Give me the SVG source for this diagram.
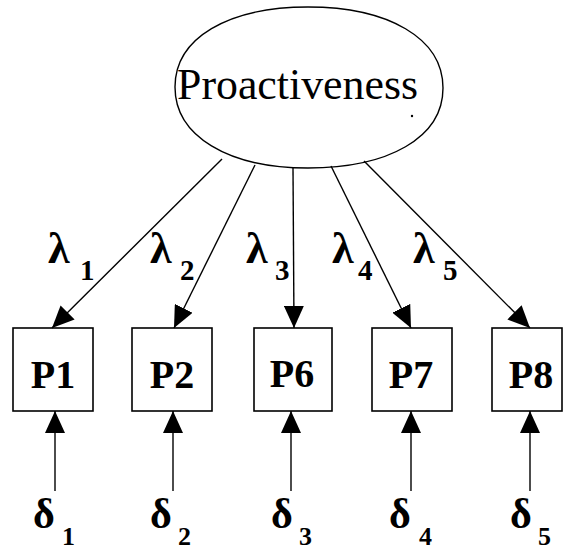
<svg xmlns="http://www.w3.org/2000/svg" width="564" height="550" viewBox="0 0 564 550">
<style>
.box{fill:#fff;stroke:#000;stroke-width:1.6}
.ln{fill:none;stroke:#000;stroke-width:1.4}
.lbl{font-family:"Liberation Serif","Times New Roman",serif;font-weight:bold;fill:#000}
.title{font-family:"Liberation Serif","Times New Roman",serif;font-weight:normal;font-size:44px;fill:#000}
.bx{font-size:40px;text-anchor:middle}
.lam{font-size:44px}
.lsub{font-size:29px}
.del{font-size:42px}
.dsub{font-size:26px}
</style>
<defs>
<marker id="ah" markerUnits="userSpaceOnUse" markerWidth="22" markerHeight="20" refX="22" refY="10" orient="auto">
<path d="M0,0 L22,10 L0,20 Z" fill="#000"/>
</marker>
</defs>
<rect width="564" height="550" fill="#fff"/>
<g id="proactiveness">
<path class="ln" d="M175,87 C175,38 228,7 308,7 C388,7 443,38 443,88 C443,138 388,168 308,168 C228,168 175,136 175,87 Z"/>
<text class="title" x="177" y="99" textLength="241" lengthAdjust="spacingAndGlyphs">Proactiveness</text>
<circle cx="412" cy="116" r="1.2" fill="#000"/>
</g>
<g id="P1"><rect class="box" x="13" y="328" width="80" height="83"/><text class="lbl bx" x="53" y="388">P1</text></g>
<g id="P2"><rect class="box" x="132" y="328" width="80" height="83"/><text class="lbl bx" x="172" y="388">P2</text></g>
<g id="P6"><rect class="box" x="254" y="328" width="78" height="83"/><text class="lbl bx" x="292" y="387">P6</text></g>
<g id="P7"><rect class="box" x="372" y="328" width="80" height="83"/><text class="lbl bx" x="411" y="388">P7</text></g>
<g id="P8"><rect class="box" x="492" y="328" width="70" height="83"/><text class="lbl bx" x="531" y="388">P8</text></g>
<g id="connectors">
<line class="ln" x1="222" y1="159" x2="52" y2="328" marker-end="url(#ah)"/>
<line class="ln" x1="255" y1="165" x2="174" y2="328" marker-end="url(#ah)"/>
<line class="ln" x1="293" y1="168" x2="294" y2="328" marker-end="url(#ah)"/>
<line class="ln" x1="331" y1="166" x2="411" y2="328" marker-end="url(#ah)"/>
<line class="ln" x1="364" y1="161" x2="530" y2="328" marker-end="url(#ah)"/>
<line class="ln" x1="55" y1="491" x2="55" y2="411" marker-end="url(#ah)"/>
<line class="ln" x1="173" y1="491" x2="173" y2="411" marker-end="url(#ah)"/>
<line class="ln" x1="291" y1="491" x2="291" y2="411" marker-end="url(#ah)"/>
<line class="ln" x1="411" y1="491" x2="411" y2="411" marker-end="url(#ah)"/>
<line class="ln" x1="530" y1="491" x2="530" y2="411" marker-end="url(#ah)"/>
</g>
<g id="loadings">
<text class="lbl lam" x="48" y="263">λ</text><text class="lbl lsub" x="80" y="280">1</text>
<text class="lbl lam" x="150" y="263">λ</text><text class="lbl lsub" x="180" y="280">2</text>
<text class="lbl lam" x="246" y="263">λ</text><text class="lbl lsub" x="275" y="280">3</text>
<text class="lbl lam" x="332" y="263">λ</text><text class="lbl lsub" x="358" y="280">4</text>
<text class="lbl lam" x="413" y="263">λ</text><text class="lbl lsub" x="443" y="280">5</text>
</g>
<g id="errors">
<text class="lbl del" x="33" y="528">δ</text><text class="lbl dsub" x="62" y="545">1</text>
<text class="lbl del" x="150" y="528">δ</text><text class="lbl dsub" x="178" y="545">2</text>
<text class="lbl del" x="271" y="528">δ</text><text class="lbl dsub" x="299" y="545">3</text>
<text class="lbl del" x="389" y="528">δ</text><text class="lbl dsub" x="419" y="545">4</text>
<text class="lbl del" x="510" y="528">δ</text><text class="lbl dsub" x="538" y="545">5</text>
</g>
</svg>
